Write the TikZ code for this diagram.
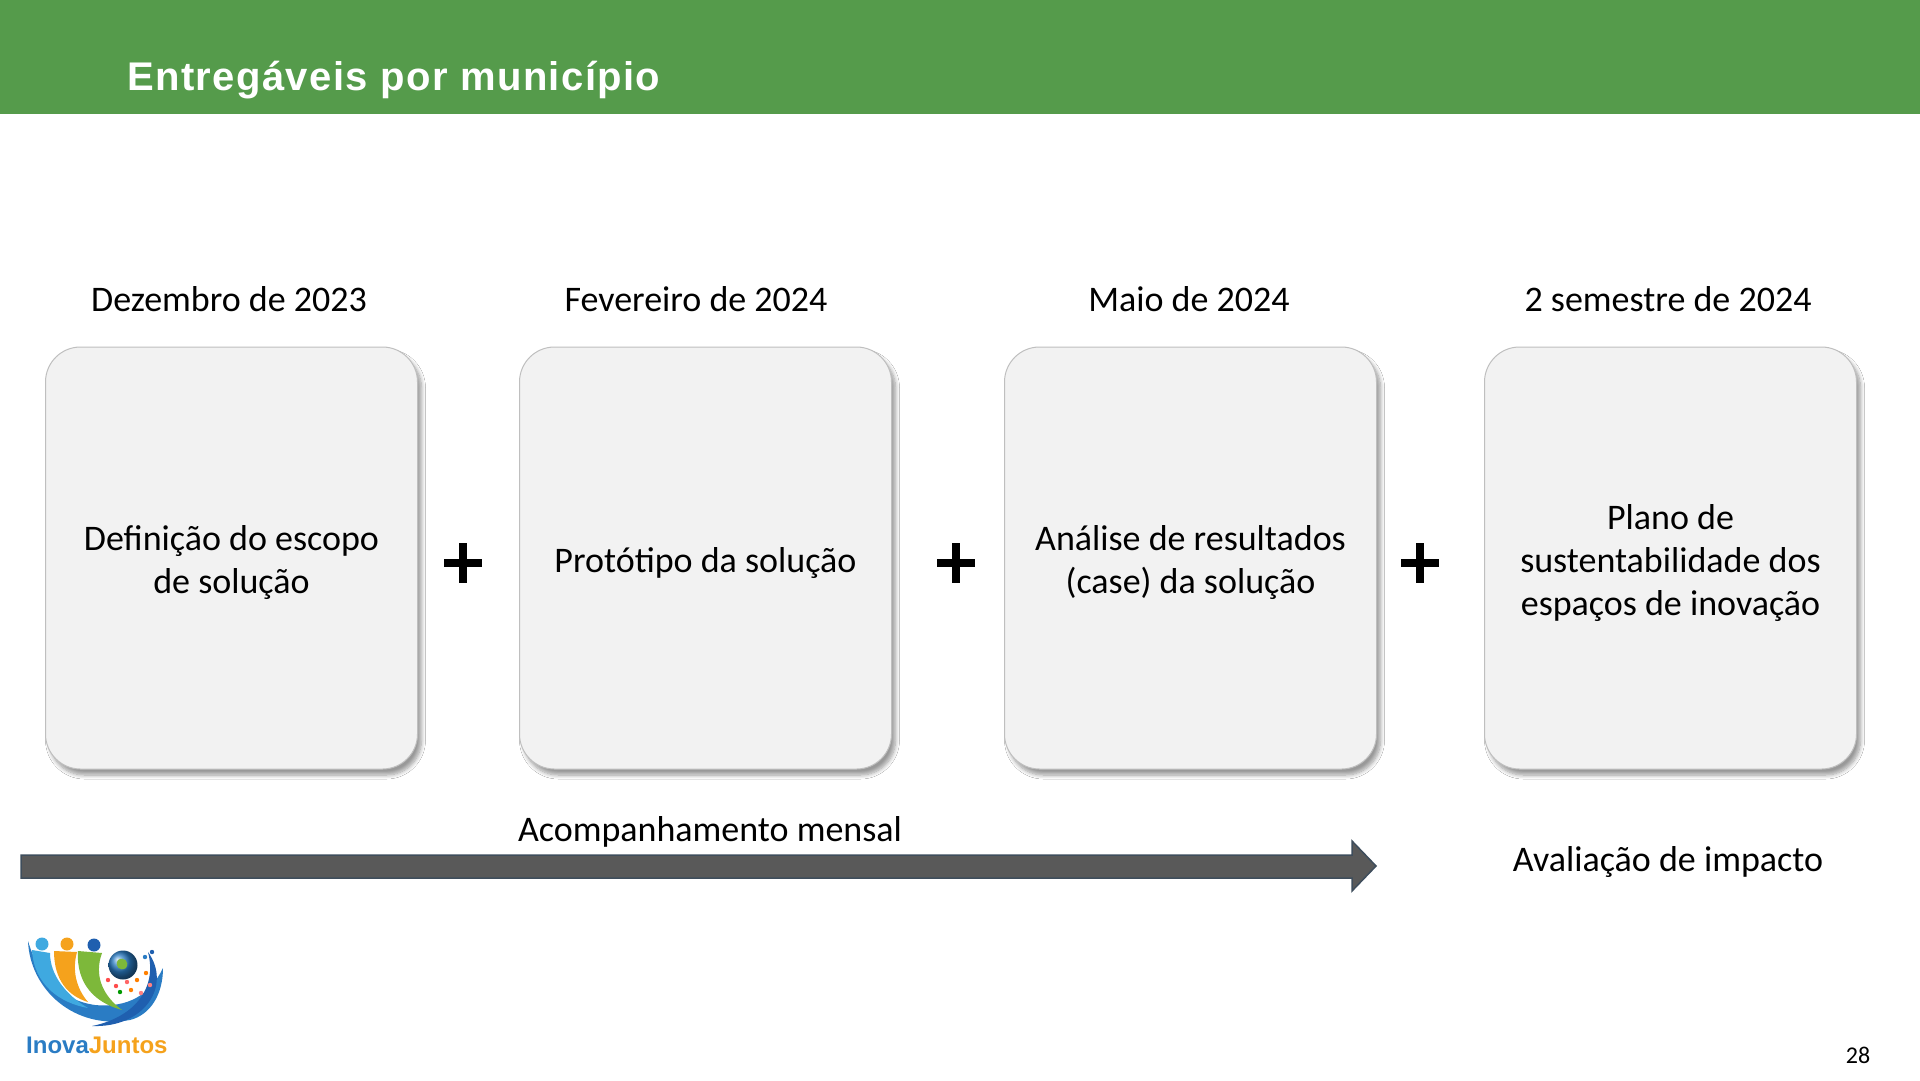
\documentclass[tikz,border=0pt]{standalone}
\usepackage{fontspec}
\setmainfont{Carlito}
\newfontfamily\titlefont[LetterSpace=3.5]{Liberation Sans}
\newfontfamily\logofont{Liberation Sans}
\usetikzlibrary{shadows.blur}
\definecolor{hdrgreen}{HTML}{559B4B}
\definecolor{boxfill}{HTML}{F2F2F2}
\definecolor{boxline}{HTML}{BFBFBF}
\definecolor{arrfill}{HTML}{595959}
\definecolor{arrline}{HTML}{3E4D5C}
\definecolor{logoblue}{HTML}{2A7CC4}
\definecolor{logolight}{HTML}{3FA9E0}
\definecolor{logoorange}{HTML}{F5A21C}
\definecolor{logogreen}{HTML}{7DB83A}
\definecolor{logodark}{HTML}{1F5FAF}
\tikzset{
  stagebox/.style={draw=boxline, line width=1pt, fill=boxfill, rounded corners=35pt,
    minimum width=372pt, minimum height=422pt, inner sep=0pt,
    blur shadow={shadow xshift=4pt, shadow yshift=-6pt, shadow blur radius=4pt, shadow blur steps=8, shadow opacity=40}},
  boxtext/.style={inner sep=0pt, align=center, font=\fontsize{36}{43}\selectfont},
  datelabel/.style={anchor=base, inner sep=0pt, font=\fontsize{36}{43}\selectfont},
  plainlabel/.style={anchor=base, inner sep=0pt, font=\fontsize{36}{43}\selectfont},
  plusbar/.style={fill=black}
}
\begin{document}
\begin{tikzpicture}[x=1pt,y=-1pt]
\useasboundingbox (0,0) rectangle (1920,1080);
\fill[white] (0,0) rectangle (1920,1080);
% header
\fill[hdrgreen] (0,0) rectangle (1920,114);
\node[anchor=base west, text=white, inner sep=0pt, font=\titlefont\bfseries\fontsize{40}{48}\selectfont] (title) at (127,90) {Entregáveis por município};
% dates
\node[datelabel] (d1) at (229,311) {Dezembro de 2023};
\node[datelabel] (d2) at (696,311) {Fevereiro de 2024};
\node[datelabel] (d3) at (1189,311) {Maio de 2024};
\node[datelabel] (d4) at (1668,311) {2 semestre de 2024};
% boxes
\node[stagebox] (b1) at (231.5,558) {};
\node[stagebox] (b2) at (705.5,558) {};
\node[stagebox] (b3) at (1190.5,558) {};
\node[stagebox] (b4) at (1670.5,558) {};
\node[boxtext] (t1) at ([yshift=-5pt]b1.center) {Definição do escopo\\de solução};
\node[boxtext] (t2) at ([yshift=-5pt]b2.center) {Protótipo da solução};
\node[boxtext] (t3) at ([yshift=-5pt]b3.center) {Análise de resultados\\(case) da solução};
\node[boxtext] (t4) at ([yshift=-5pt]b4.center) {Plano de\\sustentabilidade dos\\espaços de inovação};
% plus signs
\foreach \px/\nm in {463/p1,956/p2,1420/p3}{
  \coordinate (\nm) at (\px,563);
  \fill[plusbar] ([xshift=-19pt,yshift=4pt]\nm) rectangle ([xshift=19pt,yshift=-4pt]\nm);
  \fill[plusbar] ([xshift=-4pt,yshift=20pt]\nm) rectangle ([xshift=4pt,yshift=-20pt]\nm);
}
% arrow
\draw[fill=arrfill, draw=arrline, line width=1.5pt, line join=miter]
  (21,855) -- (1352,855) -- (1352,841) -- (1376,866) -- (1352,891) -- (1352,878) -- (21,878) -- cycle;
\node[plainlabel] (acomp) at (710,841) {Acompanhamento mensal};
\node[plainlabel] (aval) at (1668,871) {Avaliação de impacto};
% page number
\node[anchor=base, inner sep=0pt, font=\fontsize{24}{28}\selectfont] (pg) at (1858,1063) {28};
% logo
\fill[logoblue] (28,941) .. controls (30,990) and (75,1030) .. (130,1020)
  .. controls (150,1015) and (163,995) .. (163,968)
  .. controls (150,995) and (128,1008) .. (95,1005)
  .. controls (60,1000) and (38,975) .. (28,941) -- cycle;
\fill[logolight] (32,950) .. controls (34,985) and (60,1003) .. (88,1008)
  .. controls (66,995) and (50,975) .. (50,953) -- cycle;
\fill[logoorange] (54,951) .. controls (54,980) and (68,996) .. (88,1002)
  .. controls (76,988) and (72,970) .. (77,952) -- cycle;
\fill[logogreen] (78,951) .. controls (76,985) and (96,1003) .. (122,1010)
  .. controls (102,995) and (94,975) .. (102,953) -- cycle;
\fill[logodark] (148,952) .. controls (172,985) and (145,1028) .. (92,1026)
  .. controls (132,1018) and (158,990) .. (148,952) -- cycle;
\fill[logolight] (42,944) circle (6.5);
\fill[logoorange] (67,944) circle (6.5);
\fill[logodark] (94,945) circle (6.5);
\shade[ball color=logoblue] (123,965) circle (14.5);
\fill[logogreen] (118,960) .. controls (124,956) and (130,962) .. (126,968) .. controls (120,972) and (114,966) .. (118,960) -- cycle;
\foreach \dx/\dy/\dc in {108/980/red!70!white,116/986/red!70!white,127/982/red!60!white,137/980/orange,146/973/orange,150/985/red!50!white,120/992/green!60!black,131/990/orange,141/993/red!50!white,145/957/logoblue,152/952/logodark}{
  \fill[\dc] (\dx,\dy) circle (2.2);
}
\node[anchor=base west, inner sep=0pt, font=\logofont\bfseries\fontsize{24}{28}\selectfont] (logotext) at (26,1053) {\textcolor{logoblue}{Inova}\textcolor{logoorange}{Juntos}};
\end{tikzpicture}
\end{document}
